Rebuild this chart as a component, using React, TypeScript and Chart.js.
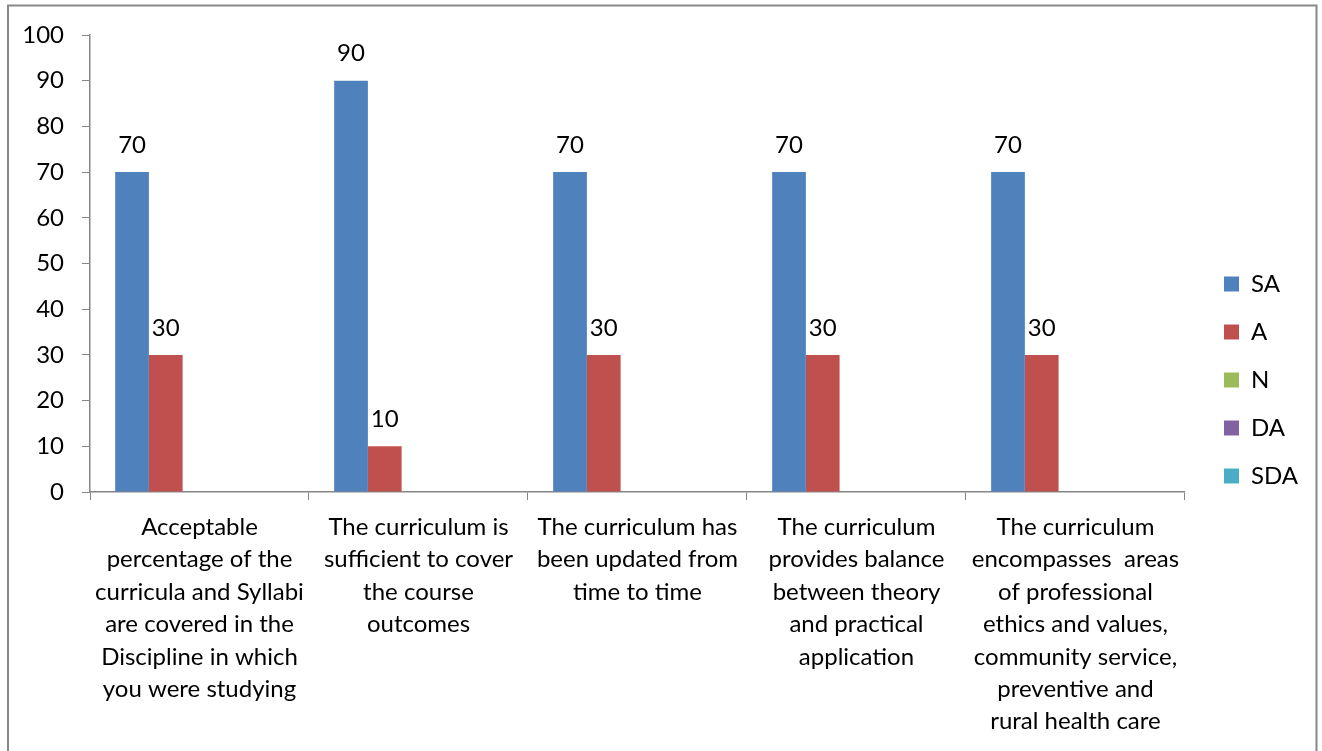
import React, { useEffect, useRef } from "react";
import { Chart, registerables } from "chart.js";

Chart.register(...registerables);

const categories: string[][] = [
  ["Acceptable", "percentage of the", "curricula and Syllabi", "are covered in the", "Discipline in which", "you were studying"],
  ["The curriculum is", "sufficient to cover", "the course", "outcomes"],
  ["The curriculum has", "been updated from", "time to time"],
  ["The curriculum", "provides balance", "between theory", "and practical", "application"],
  ["The curriculum", "encompasses  areas", "of professional", "ethics and values,", "community service,", "preventive and", "rural health care"],
];

const seriesNames = ["SA", "A", "N", "DA", "SDA"];
const saValues = [70, 90, 70, 70, 70];
const aValues = [30, 10, 30, 30, 30];
const nValues: (number | null)[] = [null, null, null, null, null];
const daValues: (number | null)[] = [null, null, null, null, null];
const sdaValues: (number | null)[] = [null, null, null, null, null];
const seriesColors = ["#4F81BD", "#C0504D", "#9BBB59", "#8064A2", "#4BACC6"];

const FONT = "Lato, 'Open Sans', sans-serif";
const FS = 24;
const AXIS = "#868686";

const framePlugin = {
  id: "frame",
  beforeDraw(chart: any) {
    const ctx = chart.ctx;
    ctx.save();
    ctx.fillStyle = "#ffffff";
    ctx.fillRect(0, 0, chart.width, chart.height);
    ctx.strokeStyle = "#878787";
    ctx.lineWidth = 2;
    ctx.strokeRect(8, 5.5, 1308.5, 800);
    ctx.restore();
  },
};

const legendShift = {
  id: "legendShift",
  afterLayout(chart: any) {
    const lg = chart.legend;
    if (lg) {
      const dx = 1200 - lg.left;
      lg.left += dx;
      lg.right += dx;
      lg.top -= 13;
      lg.bottom -= 13;
    }
  },
};

const valueLabels = {
  id: "valueLabels",
  afterDatasetsDraw(chart: any) {
    const ctx = chart.ctx;
    ctx.save();
    ctx.font = `${FS}px ${FONT}`;
    ctx.fillStyle = "#000000";
    ctx.textAlign = "center";
    ctx.textBaseline = "middle";
    chart.data.datasets.forEach((ds: any, di: number) => {
      const meta = chart.getDatasetMeta(di);
      meta.data.forEach((bar: any, i: number) => {
        const v = ds.data[i];
        if (v === null || v === undefined) return;
        ctx.fillText(String(v), bar.x, bar.y - 27);
      });
    });
    ctx.restore();
  },
};

export default function App() {
  const ref = useRef<HTMLCanvasElement | null>(null);

  useEffect(() => {
    if (!ref.current) return;
    const chart = new Chart(ref.current, {
      type: "bar",
      data: {
        labels: categories,
        datasets: [
          { label: seriesNames[0], data: saValues, backgroundColor: seriesColors[0] },
          { label: seriesNames[1], data: aValues, backgroundColor: seriesColors[1] },
          { label: seriesNames[2], data: nValues, backgroundColor: seriesColors[2] },
          { label: seriesNames[3], data: daValues, backgroundColor: seriesColors[3] },
          { label: seriesNames[4], data: sdaValues, backgroundColor: seriesColors[4] },
        ],
      },
      options: {
        animation: false,
        responsive: false,
        maintainAspectRatio: false,
        layout: { padding: { top: 35, left: 0, right: 29, bottom: 0 } },
        datasets: {
          bar: { categoryPercentage: 0.77, barPercentage: 1 },
        },
        plugins: {
          tooltip: { enabled: false },
          legend: {
            position: "right",
            labels: {
              boxWidth: 15,
              boxHeight: 15,
              padding: 24,
              color: "#000000",
              font: { family: FONT, size: FS },
            },
          },
        },
        scales: {
          x: {
            afterFit: (s: any) => {
              s.height = 259;
            },
            grid: {
              display: true,
              drawOnChartArea: false,
              tickLength: 8,
              tickColor: AXIS,
              offset: true,
            },
            border: { color: AXIS, width: 1.5 },
            ticks: {
              color: "#000000",
              font: { family: FONT, size: FS, lineHeight: 1.35 },
              padding: 11,
              maxRotation: 0,
              minRotation: 0,
              autoSkip: false,
            },
          },
          y: {
            min: 0,
            max: 100,
            afterFit: (s: any) => {
              s.width = 90;
            },
            grid: {
              display: true,
              drawOnChartArea: false,
              tickLength: 8,
              tickColor: AXIS,
            },
            border: { color: AXIS, width: 1.5 },
            ticks: {
              stepSize: 10,
              color: "#000000",
              font: { family: FONT, size: FS },
              padding: 18,
            },
          },
        },
      },
      plugins: [framePlugin, legendShift, valueLabels],
    });
    return () => chart.destroy();
  }, []);

  return (
    <div style={{ position: "fixed", left: 0, top: 0, width: 1322, height: 751 }}>
      <canvas ref={ref} width={1322} height={751} />
    </div>
  );
}
